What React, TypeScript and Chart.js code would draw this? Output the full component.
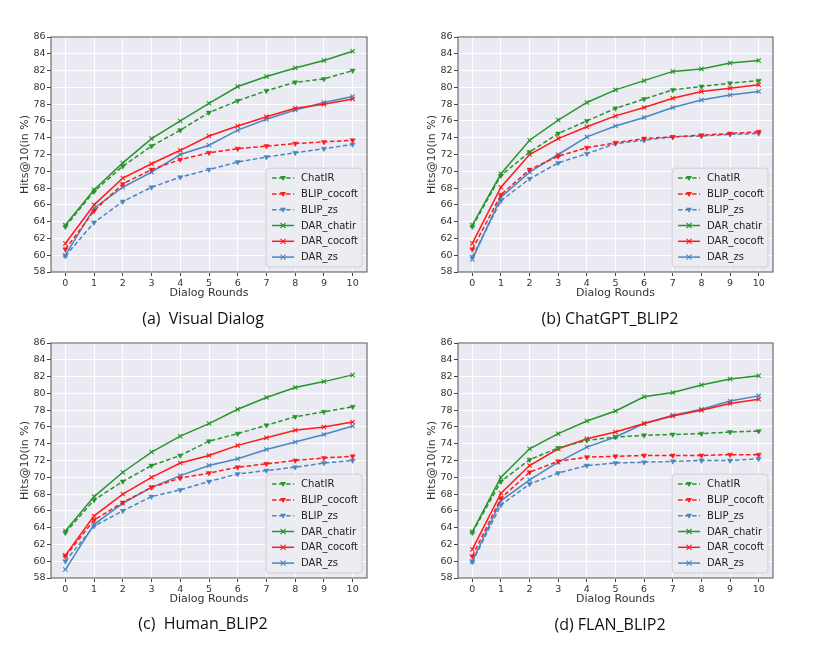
import React, { useEffect, useRef } from 'react';
import { Chart, registerables, Plugin } from 'chart.js';

Chart.register(...registerables);

// x axis: dialog rounds
const rounds = ['0', '1', '2', '3', '4', '5', '6', '7', '8', '9', '10'];
const seriesNames = ['ChatIR', 'BLIP_cocoft', 'BLIP_zs', 'DAR_chatir', 'DAR_cocoft', 'DAR_zs'];
const yMin = 58;
const yMax = 86;
const yStep = 2;

// (a) Visual Dialog
const vdChatIR = [63.4, 67.6, 70.6, 73.0, 74.9, 77.0, 78.4, 79.6, 80.6, 81.0, 82.0];
const vdBlipCocoft = [60.7, 65.3, 68.5, 70.2, 71.4, 72.2, 72.7, 73.0, 73.3, 73.5, 73.7];
const vdBlipZs = [59.9, 63.9, 66.4, 68.1, 69.3, 70.2, 71.1, 71.7, 72.2, 72.7, 73.2];
const vdDarChatir = [63.6, 67.8, 71.0, 73.9, 76.0, 78.1, 80.1, 81.3, 82.3, 83.2, 84.3];
const vdDarCocoft = [61.4, 66.0, 69.2, 70.9, 72.5, 74.2, 75.4, 76.5, 77.5, 78.0, 78.6];
const vdDarZs = [60.0, 65.6, 68.1, 69.9, 72.0, 73.1, 74.9, 76.2, 77.3, 78.2, 78.9];

// (b) ChatGPT_BLIP2
const gptChatIR = [63.4, 69.5, 72.3, 74.5, 76.0, 77.5, 78.6, 79.7, 80.1, 80.5, 80.8];
const gptBlipCocoft = [60.7, 67.2, 70.2, 71.8, 72.8, 73.4, 73.9, 74.1, 74.3, 74.5, 74.7];
const gptBlipZs = [59.8, 66.5, 69.1, 71.0, 72.1, 73.3, 73.7, 74.1, 74.2, 74.4, 74.5];
const gptDarChatir = [63.6, 69.7, 73.7, 76.1, 78.2, 79.7, 80.8, 81.9, 82.2, 82.9, 83.2];
const gptDarCocoft = [61.4, 68.1, 72.0, 73.9, 75.3, 76.6, 77.6, 78.7, 79.5, 79.9, 80.3];
const gptDarZs = [59.5, 66.9, 69.9, 72.0, 74.1, 75.4, 76.4, 77.6, 78.5, 79.1, 79.5];

// (c) Human_BLIP2
const humChatIR = [63.4, 67.3, 69.5, 71.4, 72.6, 74.3, 75.2, 76.2, 77.2, 77.8, 78.4];
const humBlipCocoft = [60.6, 64.9, 67.0, 68.8, 69.9, 70.5, 71.2, 71.6, 72.0, 72.3, 72.5];
const humBlipZs = [60.0, 64.2, 66.0, 67.7, 68.5, 69.5, 70.4, 70.8, 71.2, 71.7, 72.0];
const humDarChatir = [63.6, 67.7, 70.6, 73.0, 74.9, 76.4, 78.1, 79.5, 80.7, 81.4, 82.2];
const humDarCocoft = [60.7, 65.4, 68.0, 70.0, 71.7, 72.6, 73.8, 74.7, 75.6, 76.0, 76.6];
const humDarZs = [59.0, 64.4, 66.9, 68.8, 70.2, 71.4, 72.2, 73.3, 74.2, 75.1, 76.1];

// (d) FLAN_BLIP2
const flanChatIR = [63.4, 69.5, 72.1, 73.5, 74.4, 74.8, 75.0, 75.1, 75.2, 75.4, 75.5];
const flanBlipCocoft = [60.6, 67.5, 70.6, 71.9, 72.4, 72.5, 72.6, 72.6, 72.6, 72.7, 72.7];
const flanBlipZs = [59.9, 66.7, 69.2, 70.5, 71.4, 71.7, 71.8, 71.9, 72.0, 72.0, 72.2];
const flanDarChatir = [63.5, 70.0, 73.4, 75.2, 76.7, 77.9, 79.6, 80.1, 81.0, 81.7, 82.1];
const flanDarCocoft = [61.4, 68.1, 71.4, 73.4, 74.6, 75.4, 76.4, 77.3, 78.0, 78.8, 79.3];
const flanDarZs = [60.0, 67.2, 69.7, 71.8, 73.6, 74.8, 76.4, 77.4, 78.1, 79.1, 79.7];

const GREEN = '#26962a';
const RED = '#ff1a1a';
const BLUE = '#4a86c0';
const styles = [
  { color: GREEN, dashed: true },
  { color: RED, dashed: true },
  { color: BLUE, dashed: true },
  { color: GREEN, dashed: false },
  { color: RED, dashed: false },
  { color: BLUE, dashed: false },
];

const FONT = '"DejaVu Sans", sans-serif';

const bgPlugin: Plugin = {
  id: 'plotBg',
  beforeDraw(chart) {
    const { ctx, chartArea: a } = chart;
    ctx.save();
    ctx.fillStyle = '#eaeaf2';
    ctx.fillRect(a.left, a.top, a.right - a.left, a.bottom - a.top);
    ctx.restore();
  },
  afterDraw(chart) {
    const { ctx, chartArea: a } = chart;
    ctx.save();
    ctx.strokeStyle = '#555';
    ctx.lineWidth = 1;
    ctx.strokeRect(a.left, a.top, a.right - a.left, a.bottom - a.top);

    // legend inside the plot, lower right
    ctx.font = `10px ${FONT}`;
    const items = chart.data.datasets;
    const rowH = 15.8;
    const sample = 22;
    const textW = Math.max(...items.map((d) => ctx.measureText(String(d.label)).width));
    const w = 6 + sample + 7 + textW + 4;
    const h = items.length * rowH + 4;
    const x = a.right - 5 - w;
    const y = a.bottom - 5 - h;
    ctx.beginPath();
    ctx.roundRect(x, y, w, h, 3);
    ctx.fillStyle = '#ececf3';
    ctx.fill();
    ctx.strokeStyle = '#cfcfd6';
    ctx.stroke();
    items.forEach((d: any, i) => {
      const cy = y + 2 + rowH * (i + 0.5);
      const color = d.borderColor as string;
      ctx.strokeStyle = color;
      ctx.lineWidth = 1.5;
      ctx.setLineDash(d.borderDash || []);
      ctx.beginPath();
      ctx.moveTo(x + 6, cy);
      ctx.lineTo(x + 6 + sample, cy);
      ctx.stroke();
      ctx.setLineDash([]);
      const mx = x + 6 + sample / 2;
      if (d.pointStyle === 'triangle') {
        ctx.fillStyle = color;
        ctx.beginPath();
        ctx.moveTo(mx - 3, cy - 2);
        ctx.lineTo(mx + 3, cy - 2);
        ctx.lineTo(mx, cy + 3);
        ctx.closePath();
        ctx.fill();
      } else {
        ctx.lineWidth = 1.1;
        ctx.beginPath();
        ctx.moveTo(mx - 2.5, cy - 2.5);
        ctx.lineTo(mx + 2.5, cy + 2.5);
        ctx.moveTo(mx + 2.5, cy - 2.5);
        ctx.lineTo(mx - 2.5, cy + 2.5);
        ctx.stroke();
      }
      ctx.fillStyle = '#222';
      ctx.textBaseline = 'middle';
      ctx.textAlign = 'left';
      ctx.fillText(String(d.label), x + 6 + sample + 7, cy + 0.5);
    });
    ctx.restore();
  },
};

interface PanelProps {
  values: number[][];
  left: number;
  top: number;
  width: number;
  height: number;
  yAxisWidth: number;
  padRight: number;
  yTitlePad: number;
}

const Panel: React.FC<PanelProps> = ({ values, left, top, width, height, yAxisWidth, padRight, yTitlePad }) => {
  const canvasRef = useRef<HTMLCanvasElement | null>(null);

  useEffect(() => {
    if (!canvasRef.current) return;
    const chart = new Chart(canvasRef.current, {
      type: 'line',
      data: {
        labels: rounds,
        datasets: values.map((v, i) => ({
          label: seriesNames[i],
          data: v,
          borderColor: styles[i].color,
          backgroundColor: styles[i].color,
          borderWidth: 1.5,
          borderDash: styles[i].dashed ? [4.5, 2.5] : [],
          pointStyle: styles[i].dashed ? 'triangle' : 'crossRot',
          pointRotation: styles[i].dashed ? 180 : 0,
          pointRadius: 3,
          pointBorderWidth: styles[i].dashed ? 0.5 : 1.1,
          pointBackgroundColor: styles[i].color,
          pointBorderColor: styles[i].color,
          tension: 0,
        })),
      },
      options: {
        responsive: false,
        animation: false,
        layout: { padding: { top: 17, right: padRight, left: 0, bottom: 0 } },
        plugins: { legend: { display: false }, tooltip: { enabled: false } },
        scales: {
          x: {
            type: 'category',
            offset: true,
            grid: { color: '#ffffff', lineWidth: 1, offset: false, tickLength: 4, tickColor: '#444' },
            border: { display: false },
            ticks: { font: { family: FONT, size: 9.5 }, color: '#333', padding: 1.5, maxRotation: 0 },
            title: { display: true, text: 'Dialog Rounds', font: { family: FONT, size: 11 }, color: '#333', padding: { top: 0, bottom: 10.4 } },
            afterFit: (scale) => { scale.height = 38; },
          },
          y: {
            type: 'linear',
            min: yMin,
            max: yMax,
            ticks: { stepSize: yStep, font: { family: FONT, size: 9.5 }, color: '#333', padding: 1.5 },
            grid: { color: '#ffffff', lineWidth: 1, tickLength: 4, tickColor: '#444' },
            border: { display: false },
            title: { display: true, text: 'Hits@10(in %)', font: { family: FONT, size: 11 }, color: '#333', padding: { top: yTitlePad, bottom: 0 } },
            afterFit: (scale) => { scale.width = yAxisWidth; },
          },
        },
      },
      plugins: [bgPlugin],
    });
    return () => {
      chart.destroy();
    };
  }, [values]);

  return (
    <canvas
      ref={canvasRef}
      width={width}
      height={height}
      style={{ position: 'absolute', left, top, width, height }}
    />
  );
};

const captionStyle = (x: number, y: number): React.CSSProperties => ({
  position: 'absolute',
  left: x,
  top: y,
  transform: 'translate(-50%, -50%)',
  fontFamily: '"Open Sans", sans-serif',
  fontSize: 16,
  lineHeight: 1,
  color: '#111',
  whiteSpace: 'pre',
});

export default function App() {
  return (
    <div style={{ position: 'absolute', left: 0, top: 0, width: 814, height: 645, background: '#fff' }}>
      <Panel values={[vdChatIR, vdBlipCocoft, vdBlipZs, vdDarChatir, vdDarCocoft, vdDarZs]}
        left={0} top={20} width={400} height={290} yAxisWidth={51} padRight={33} yTitlePad={18.4} />
      <Panel values={[gptChatIR, gptBlipCocoft, gptBlipZs, gptDarChatir, gptDarCocoft, gptDarZs]}
        left={400} top={20} width={414} height={290} yAxisWidth={58} padRight={41} yTitlePad={25.4} />
      <Panel values={[humChatIR, humBlipCocoft, humBlipZs, humDarChatir, humDarCocoft, humDarZs]}
        left={0} top={326} width={400} height={290} yAxisWidth={51} padRight={33} yTitlePad={18.4} />
      <Panel values={[flanChatIR, flanBlipCocoft, flanBlipZs, flanDarChatir, flanDarCocoft, flanDarZs]}
        left={400} top={326} width={414} height={290} yAxisWidth={58} padRight={41} yTitlePad={25.4} />
      <div style={captionStyle(203, 318)}>(a)  Visual Dialog</div>
      <div style={captionStyle(610, 318)}>(b) ChatGPT_BLIP2</div>
      <div style={captionStyle(203, 623)}>(c)  Human_BLIP2</div>
      <div style={captionStyle(610, 624)}>(d) FLAN_BLIP2</div>
    </div>
  );
}
